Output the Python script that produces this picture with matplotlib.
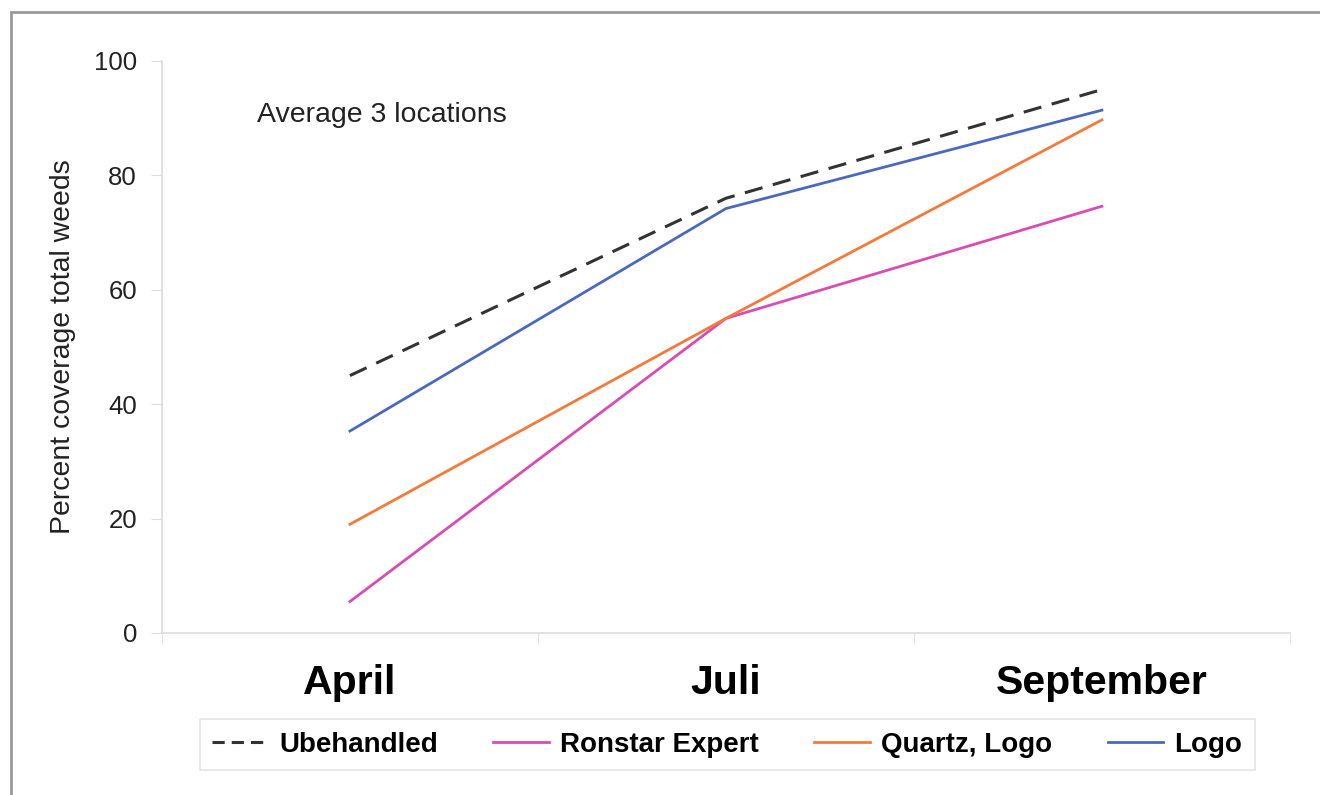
import matplotlib.pyplot as plt
from matplotlib.patches import Rectangle

# data
months = ["April", "Juli", "September"]
ubehandled = [45, 76, 95]
ronstar = [5.5, 55, 74.6]
quartz_logo = [19, 55, 89.7]
logo = [35.3, 74.2, 91.4]

plt.rcParams['font.family'] = ['Liberation Sans', 'DejaVu Sans']

fig = plt.figure(figsize=(13.2, 7.95), dpi=100)
ax = fig.add_axes([0.1227, 0.2038, 0.8545, 0.7195])

x = range(len(months))
ax.plot(x, ubehandled, color="#333333", lw=2.2, ls=(0, (6, 3.5)), label="Ubehandled")
ax.plot(x, ronstar, color="#d94cb4", lw=2.0, label="Ronstar Expert")
ax.plot(x, quartz_logo, color="#f57a3a", lw=2.0, label="Quartz, Logo")
ax.plot(x, logo, color="#4a68c0", lw=2.0, label="Logo")

ax.set_xlim(-0.5, 2.5)
ax.set_ylim(0, 100)
ax.set_yticks([0, 20, 40, 60, 80, 100])
ax.set_xticks(list(x))
ax.set_xticklabels(months, fontsize=29.5, fontweight="bold")
ax.set_xticks([-0.5, 0.5, 1.5, 2.5], minor=True)
ax.tick_params(axis="x", which="major", length=0, pad=22)
ax.tick_params(axis="x", which="minor", length=8, color="#dddddd", direction="out")
ax.tick_params(axis="y", length=8, color="#dddddd", labelsize=18.5, pad=10,
               labelcolor="#222222")

for s in ["top", "right"]:
    ax.spines[s].set_visible(False)
for s in ["left", "bottom"]:
    ax.spines[s].set_color("#dddddd")
    ax.spines[s].set_linewidth(1.2)

ax.set_ylabel("Percent coverage total weeds", fontsize=20.4, labelpad=13,
              color="#222222")
ax.text(0.084, 0.905, "Average 3 locations", transform=ax.transAxes,
        fontsize=20.5, va="center", ha="left", color="#222222")

leg = fig.legend(loc="center", bbox_to_anchor=(0.551, 0.0635), ncol=4,
                 frameon=True, handlelength=2.0,
                 columnspacing=2.0, handletextpad=0.4,
                 prop={"size": 20, "weight": "bold"}, fancybox=False,
                 borderpad=0.45)
leg.get_frame().set_edgecolor("#dddddd")
leg.get_frame().set_linewidth(1.2)
# shorter dashes in the legend so three fit, as in the original
leg.get_lines()[0].set_linestyle((0, (4, 2.3)))

# outer frame
fig.patches.append(Rectangle((11 / 1320, -0.1), 1.2, 1.1 - 12 / 795,
                             transform=fig.transFigure, fill=False,
                             edgecolor="#999999", linewidth=2))

fig.savefig("out.png", dpi=100)
